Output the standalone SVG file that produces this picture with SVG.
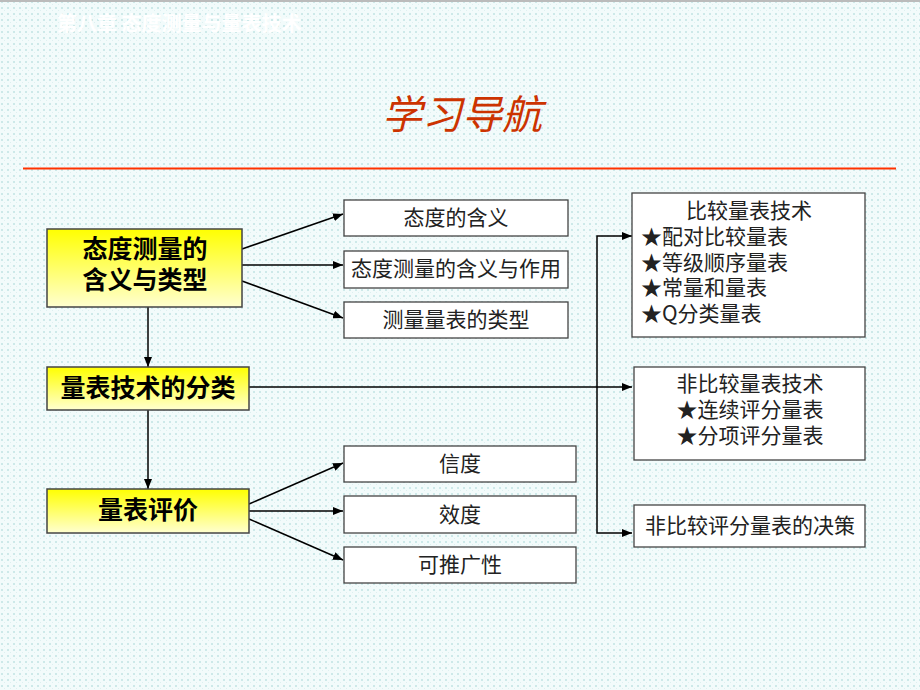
<svg xmlns="http://www.w3.org/2000/svg" width="920" height="690" viewBox="0 0 920 690">
<defs>
<pattern id="dots" x="0" y="0" width="6" height="6" patternUnits="userSpaceOnUse">
<rect width="6" height="6" fill="#F2FBFB"/>
<rect x="1" y="1" width="2" height="2" fill="#CDE9E9"/>
<rect x="4" y="4" width="1" height="1" fill="#DDF0F0"/>
</pattern>
<linearGradient id="yel" x1="0" y1="0" x2="0" y2="1">
<stop offset="0" stop-color="#FFFF00"/>
<stop offset="1" stop-color="#FFFFD0"/>
</linearGradient>
<marker id="arr" viewBox="0 0 10 8" refX="10" refY="4" markerWidth="10" markerHeight="8" markerUnits="userSpaceOnUse" orient="auto">
<path d="M0,0 L10,4 L0,8 Z" fill="#000"/>
</marker>
<style>
.cjk{font-family:"Noto Sans CJK SC","Noto Sans CJK TC",sans-serif}
.main{fill:url(#yel);stroke:#444;stroke-width:1.5}
.box{fill:#fff;stroke:#444;stroke-width:1.3}
.mt{font-size:25px;font-weight:bold;fill:#000;text-anchor:middle}
.bt{font-size:21px;fill:#222;text-anchor:middle}
.lt{font-size:21px;fill:#222}
.ln{stroke:#000;stroke-width:1.5;fill:none}
.ar{stroke:#000;stroke-width:1.5;fill:none;marker-end:url(#arr)}
</style>
</defs>
<rect width="920" height="690" fill="url(#dots)"/>
<rect width="920" height="2" fill="#BBBBBB"/>
<text x="57" y="31" class="cjk" font-size="20" font-weight="bold" fill="#FFFFFF">第八章 态度测量与量表技术</text>
<text x="462" y="129" class="cjk" font-size="40" font-style="italic" fill="#CC3300" text-anchor="middle">学习导航</text>
<line x1="23" y1="168.5" x2="896" y2="168.5" stroke="#FF3300" stroke-width="2"/>

<g id="connectors">
<line class="ar" x1="242" y1="249" x2="343" y2="214"/>
<line class="ar" x1="242" y1="265" x2="343" y2="265"/>
<line class="ar" x1="242" y1="281" x2="343" y2="318"/>
<line class="ar" x1="148" y1="307" x2="148" y2="367"/>
<line class="ar" x1="148" y1="410" x2="148" y2="489"/>
<line class="ar" x1="249" y1="387" x2="632" y2="387"/>
<polyline class="ar" points="597,387 597,236 632,236"/>
<polyline class="ar" points="597,387 597,533 632,533"/>
<line class="ar" x1="249" y1="504" x2="343" y2="463"/>
<line class="ar" x1="249" y1="511" x2="343" y2="511"/>
<line class="ar" x1="249" y1="519" x2="343" y2="560"/>
</g>

<g id="n-attitude">
<rect class="main" x="47" y="229" width="195" height="78"/>
<text class="cjk mt" x="145" y="258">态度测量的</text>
<text class="cjk mt" x="145" y="289">含义与类型</text>
</g>
<g id="n-classify">
<rect class="main" x="47" y="367" width="202" height="43"/>
<text class="cjk mt" x="148" y="397">量表技术的分类</text>
</g>
<g id="n-evaluate">
<rect class="main" x="47" y="489" width="202" height="44"/>
<text class="cjk mt" x="148" y="519">量表评价</text>
</g>

<g id="n-meaning">
<rect class="box" x="344" y="200" width="224" height="36"/>
<text class="cjk bt" x="456" y="225">态度的含义</text>
</g>
<g id="n-measure">
<rect class="box" x="344" y="251" width="224" height="37"/>
<text class="cjk bt" x="456" y="276">态度测量的含义与作用</text>
</g>
<g id="n-types">
<rect class="box" x="344" y="302" width="224" height="36"/>
<text class="cjk bt" x="456" y="327">测量量表的类型</text>
</g>

<g id="n-reliability">
<rect class="box" x="344" y="446" width="232" height="36"/>
<text class="cjk bt" x="460" y="471">信度</text>
</g>
<g id="n-validity">
<rect class="box" x="344" y="496" width="232" height="37"/>
<text class="cjk bt" x="460" y="522">效度</text>
</g>
<g id="n-general">
<rect class="box" x="344" y="547" width="232" height="36"/>
<text class="cjk bt" x="460" y="572">可推广性</text>
</g>

<g id="n-comparative">
<rect class="box" x="632" y="193" width="233" height="144"/>
<text class="cjk bt" x="749" y="218">比较量表技术</text>
<text class="cjk lt" x="641" y="244">★配对比较量表</text>
<text class="cjk lt" x="641" y="270">★等级顺序量表</text>
<text class="cjk lt" x="641" y="295">★常量和量表</text>
<text class="cjk lt" x="641" y="321">★Q分类量表</text>
</g>
<g id="n-noncomparative">
<rect class="box" x="634" y="367" width="231" height="93"/>
<text class="cjk bt" x="750" y="391">非比较量表技术</text>
<text class="cjk bt" x="750" y="417">★连续评分量表</text>
<text class="cjk bt" x="750" y="443">★分项评分量表</text>
</g>
<g id="n-decision">
<rect class="box" x="634" y="505" width="231" height="42"/>
<text class="cjk bt" x="750" y="533">非比较评分量表的决策</text>
</g>
</svg>
